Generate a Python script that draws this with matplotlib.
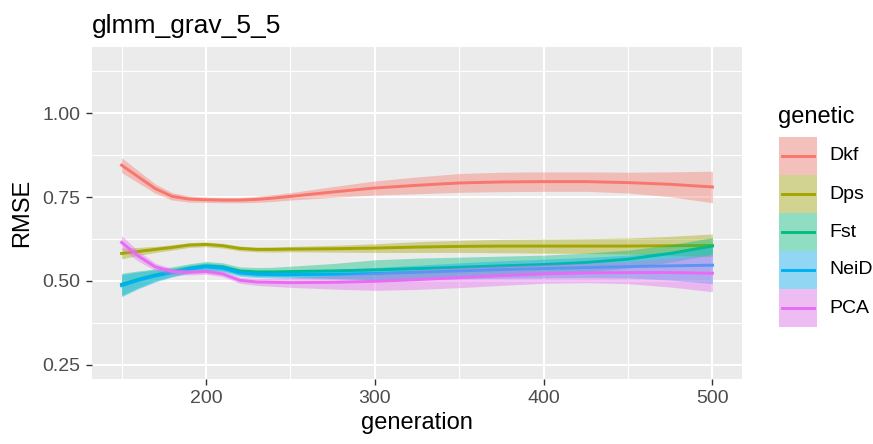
import numpy as np
import matplotlib
matplotlib.use("Agg")
import matplotlib.pyplot as plt
from matplotlib.patches import Rectangle

plt.rcParams['font.family'] = ['Liberation Sans', 'DejaVu Sans']

# smoothed RMSE curves (generation grid shared by all groups)
generation = [150, 160, 170, 180, 190, 200, 210, 220, 230, 240, 250,
              275, 300, 325, 350, 375, 400, 425, 450, 475, 500]

dkf = [0.845, 0.810, 0.775, 0.752, 0.744, 0.742, 0.741, 0.741, 0.743, 0.747, 0.752,
       0.765, 0.777, 0.785, 0.792, 0.795, 0.796, 0.796, 0.793, 0.788, 0.780]
dkf_se = [0.022, 0.018, 0.014, 0.011, 0.009, 0.008, 0.008, 0.008, 0.009, 0.010, 0.011,
          0.016, 0.021, 0.025, 0.028, 0.029, 0.029, 0.029, 0.031, 0.037, 0.047]

dps = [0.582, 0.588, 0.594, 0.600, 0.607, 0.609, 0.605, 0.597, 0.594, 0.594, 0.595,
       0.596, 0.598, 0.601, 0.603, 0.604, 0.604, 0.604, 0.604, 0.605, 0.606]
dps_se = [0.016, 0.012, 0.009, 0.008, 0.007, 0.007, 0.007, 0.007, 0.007, 0.008, 0.008,
          0.010, 0.013, 0.016, 0.018, 0.020, 0.021, 0.022, 0.024, 0.028, 0.034]

fst = [0.490, 0.505, 0.518, 0.528, 0.538, 0.545, 0.542, 0.530, 0.527, 0.527, 0.528,
       0.530, 0.533, 0.537, 0.541, 0.545, 0.549, 0.555, 0.565, 0.582, 0.604]
fst_se = [0.033, 0.025, 0.018, 0.014, 0.013, 0.013, 0.012, 0.012, 0.013, 0.014, 0.016,
          0.022, 0.030, 0.031, 0.030, 0.029, 0.028, 0.028, 0.027, 0.026, 0.025]

neid = [0.486, 0.502, 0.515, 0.525, 0.535, 0.542, 0.538, 0.524, 0.520, 0.519, 0.519,
        0.520, 0.522, 0.526, 0.530, 0.534, 0.537, 0.540, 0.543, 0.545, 0.547]
neid_se = [0.033, 0.025, 0.018, 0.013, 0.012, 0.012, 0.011, 0.010, 0.010, 0.010, 0.011,
           0.014, 0.018, 0.021, 0.024, 0.026, 0.028, 0.030, 0.034, 0.042, 0.055]

pca = [0.615, 0.574, 0.542, 0.528, 0.526, 0.528, 0.521, 0.502, 0.497, 0.496, 0.495,
       0.496, 0.499, 0.504, 0.510, 0.516, 0.521, 0.524, 0.525, 0.525, 0.523]
pca_se = [0.020, 0.015, 0.011, 0.009, 0.008, 0.008, 0.008, 0.009, 0.010, 0.012, 0.014,
          0.020, 0.027, 0.029, 0.030, 0.029, 0.028, 0.029, 0.033, 0.043, 0.055]

groups = ['Dkf', 'Dps', 'Fst', 'NeiD', 'PCA']
means = [dkf, dps, fst, neid, pca]
errs = [dkf_se, dps_se, fst_se, neid_se, pca_se]
colors = ['#F8766D', '#A3A500', '#00BF7D', '#00B0F6', '#E76BF3']

fig = plt.figure(figsize=(8.73, 4.44), dpi=100)
ax = fig.add_axes([92/873, 65/444, 650/873, 332/444])
ax.set_facecolor('#EBEBEB')

# ribbon then line for each group, like geom_smooth draws them
x = np.array(generation)
for i, (m, e, c) in enumerate(zip(means, errs, colors)):
    m = np.array(m); e = np.array(e)
    ax.fill_between(x, m - e, m + e, color=c, alpha=0.4, linewidth=0, zorder=2 + 2*i)
    ax.plot(x, m, color=c, lw=2.1, zorder=3 + 2*i)

ax.set_xlim(132.5, 517.5)
ax.set_ylim(0.208, 1.197)
ax.set_xticks([200, 300, 400, 500])
ax.set_xticks([150, 250, 350, 450], minor=True)
ax.set_yticks([0.25, 0.50, 0.75, 1.00])
ax.set_yticks([0.375, 0.625, 0.875, 1.125], minor=True)
ax.set_yticklabels(['0.25', '0.50', '0.75', '1.00'])
ax.grid(which='major', color='white', lw=1.5, zorder=0)
ax.grid(which='minor', color='white', lw=0.8, zorder=0)
ax.set_axisbelow(True)
for s in ax.spines.values():
    s.set_visible(False)
ax.tick_params(which='major', length=4.2, width=1, color='#333333',
               labelsize=14, labelcolor='#4D4D4D', pad=4)
ax.tick_params(which='minor', length=0)

ax.set_xlabel('generation', fontsize=17, labelpad=3)
ax.set_ylabel('RMSE', fontsize=17, labelpad=7)
ax.set_title('glmm_grav_5_5', loc='left', fontsize=19, pad=10)

# legend drawn by hand: contiguous keys with ribbon fill + line
fig.text(778/873, 1 - 117/444, 'genetic', fontsize=17, va='center', ha='left')
lax = fig.add_axes([779/873, 1 - 327/444, 38/873, 190/444])
lax.set_xlim(0, 1)
lax.set_ylim(len(groups), 0)
lax.axis('off')
for i, (g, c) in enumerate(zip(groups, colors)):
    lax.add_patch(Rectangle((0, i), 1, 1, facecolor='#F2F2F2', edgecolor='none'))
    lax.add_patch(Rectangle((0, i), 1, 1, facecolor=c, alpha=0.4, edgecolor='none'))
    lax.plot([0.08, 0.92], [i + 0.5, i + 0.5], color=c, lw=2.1)
    fig.text(829/873, 1 - (137 + 38*i + 19)/444, g, fontsize=14, va='center', ha='left')

fig.savefig('out.png', dpi=100)
